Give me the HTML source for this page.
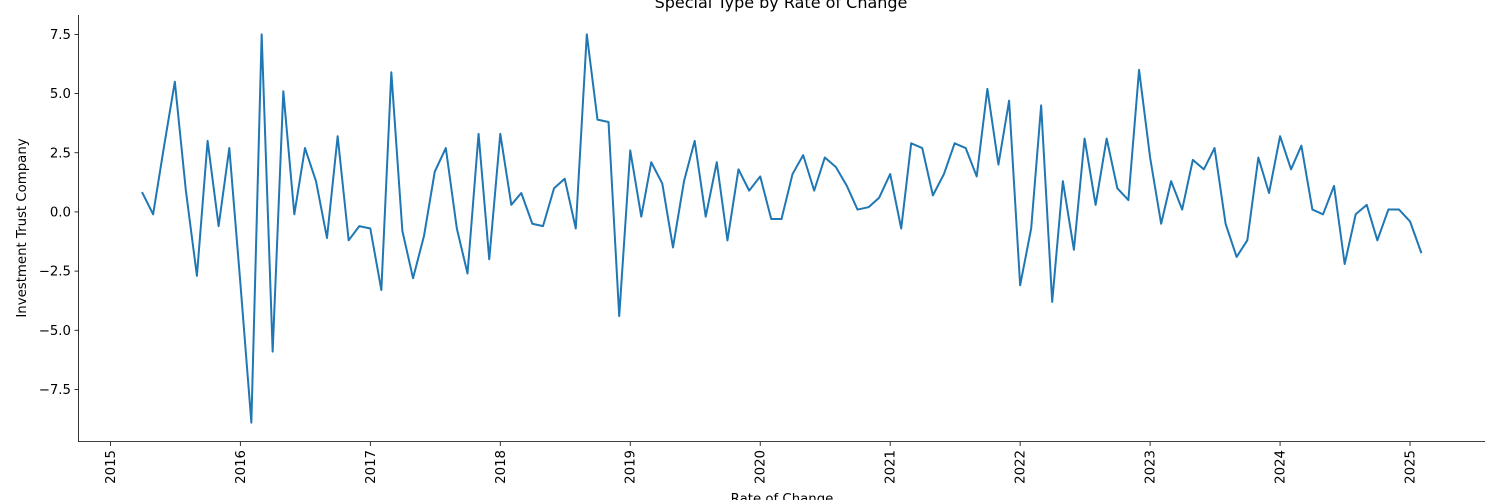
<!DOCTYPE html>
<html><head><meta charset="utf-8"><style>
body{margin:0;background:#fff;}
svg{display:block;font-family:"DejaVu Sans","Liberation Sans",sans-serif;}
</style></head><body>
<svg id="chart" width="1500" height="500">
<text x="781" y="8" text-anchor="middle" font-size="16">Special Type by Rate of Change</text>
<text transform="translate(26,228) rotate(-90)" text-anchor="middle" font-size="13.3">Investment Trust Company</text>
<text x="782" y="503" text-anchor="middle" font-size="13.3">Rate of Change</text>
<g id="yt"></g><g id="xt"></g>
<path id="line" fill="none" stroke="#1f77b4" stroke-width="2" stroke-linejoin="round" stroke-linecap="square"></path>
<line x1="78.5" y1="15" x2="78.5" y2="442" stroke="#000" stroke-width="0.8"></line>
<line x1="78.5" y1="441.5" x2="1485" y2="441.5" stroke="#000" stroke-width="0.8"></line>
</svg>
<script>
const startYear = 2015, startMonth = 4;
const values = [0.8,-0.1,2.8,5.5,0.9,-2.7,3.0,-0.6,2.7,-3.0,-8.9,7.5,-5.9,5.1,-0.1,2.7,1.3,-1.1,3.2,-1.2,-0.6,-0.7,-3.3,5.9,-0.8,-2.8,-1.0,1.7,2.7,-0.7,-2.6,3.3,-2.0,3.3,0.3,0.8,-0.5,-0.6,1.0,1.4,-0.7,7.5,3.9,3.8,-4.4,2.6,-0.2,2.1,1.2,-1.5,1.3,3.0,-0.2,2.1,-1.2,1.8,0.9,1.5,-0.3,-0.3,1.6,2.4,0.9,2.3,1.9,1.1,0.1,0.2,0.6,1.6,-0.7,2.9,2.7,0.7,1.6,2.9,2.7,1.5,5.2,2.0,4.7,-3.1,-0.7,4.5,-3.8,1.3,-1.6,3.1,0.3,3.1,1.0,0.5,6.0,2.3,-0.5,1.3,0.1,2.2,1.8,2.7,-0.5,-1.9,-1.2,2.3,0.8,3.2,1.8,2.8,0.1,-0.1,1.1,-2.2,-0.1,0.3,-1.2,0.1,0.1,-0.4,-1.7];
const yTicks = [-7.5,-5.0,-2.5,0.0,2.5,5.0,7.5];
const xTickYears = [2015,2016,2017,2018,2019,2020,2021,2022,2023,2024,2025];
const NS="http://www.w3.org/2000/svg";
function dec(y,m){
  const d0=Date.UTC(y,0,1), d1=Date.UTC(y+1,0,1), d=Date.UTC(y,m-1,1);
  return y+(d-d0)/(d1-d0);
}
const dates = values.map((v,i)=>{const t=startMonth-1+i;return dec(startYear+Math.floor(t/12),t%12+1);});
const xmin0=Math.min(...dates), xmax0=Math.max(...dates), xs=(xmax0-xmin0)*0.05;
const xmin=xmin0-xs, xmax=xmax0+xs;
const ymin0=Math.min(...values), ymax0=Math.max(...values), ysp=(ymax0-ymin0)*0.05;
const ymin=ymin0-ysp, ymax=ymax0+ysp;
const L=78.5,R=1485,T=15,B=442;
const X=v=>L+(v-xmin)/(xmax-xmin)*(R-L);
const Y=v=>B-(v-ymin)/(ymax-ymin)*(B-T);
document.getElementById('line').setAttribute('d',values.map((v,i)=>(i?'L':'M')+X(dates[i]).toFixed(2)+' '+Y(v).toFixed(2)).join(' '));
const yt=document.getElementById('yt');
yTicks.forEach(t=>{
  const y=Y(t);
  const ln=document.createElementNS(NS,'line');
  ln.setAttribute('x1',74.5);ln.setAttribute('x2',78.5);ln.setAttribute('y1',y);ln.setAttribute('y2',y);ln.setAttribute('stroke','#000');ln.setAttribute('stroke-width','0.8');
  
  
  yt.appendChild(ln);
  const tx=document.createElementNS(NS,'text');
  tx.setAttribute('x',71);tx.setAttribute('y',y+4.5);tx.setAttribute('text-anchor','end');tx.setAttribute('font-size','13.3');
  tx.textContent=t.toFixed(1).replace('-','\u2212');
  
  
  yt.appendChild(tx);
});
const xt=document.getElementById('xt');
xTickYears.forEach(yr=>{
  const x=X(yr);
  const ln=document.createElementNS(NS,'line');
  ln.setAttribute('x1',x);ln.setAttribute('x2',x);ln.setAttribute('y1',442);ln.setAttribute('y2',446);ln.setAttribute('stroke','#000');ln.setAttribute('stroke-width','0.8');
  
  
  xt.appendChild(ln);
  const tx=document.createElementNS(NS,'text');
  tx.setAttribute('transform','translate('+(x+4.5)+',450) rotate(-90)');tx.setAttribute('text-anchor','end');tx.setAttribute('font-size','13.3');
  tx.textContent=yr;
  
  
  xt.appendChild(tx);
});
</script>
</body></html>
